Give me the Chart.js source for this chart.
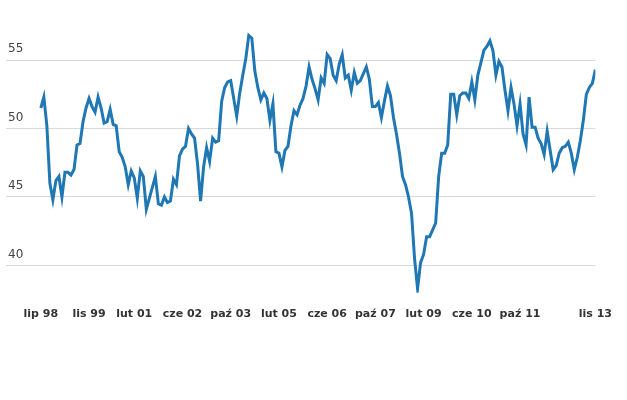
<!DOCTYPE html>
<html><head><meta charset="utf-8">
<script src="https://cdn.jsdelivr.net/npm/chart.js@4"></script>
<style>html,body{margin:0;padding:0;background:#fff}#wrap{width:627px;height:400px;position:relative}</style>
</head><body><div id="wrap"><canvas id="c"></canvas></div>
<script>
// Monthly values, lip 98 (index 0) .. lis 13 (index 184)
const values = [
  51.5, 52.3, 50.2, 46.0, 44.8, 46.2, 46.5, 45.0, 46.8, 46.8,
  46.6, 47.0, 48.8, 48.9, 50.5, 51.5, 52.2, 51.6, 51.2, 52.3,
  51.5, 50.4, 50.5, 51.4, 50.3, 50.2, 48.3, 47.9, 47.2, 45.9,
  46.9, 46.4, 44.9, 46.9, 46.5, 44.1, 44.9, 45.7, 46.5, 44.5,
  44.4, 45.0, 44.6, 44.7, 46.3, 45.9, 48.0, 48.5, 48.7, 50.0,
  49.6, 49.3, 47.4, 44.7, 47.2, 48.6, 47.6, 49.3, 49.0, 49.1,
  52.0, 53.0, 53.4, 53.5, 52.2, 50.9, 52.6, 53.9, 55.1, 56.8,
  56.6, 54.2, 53.0, 52.1, 52.6, 52.2, 50.6, 51.8, 48.3, 48.2,
  47.2, 48.4, 48.7, 50.2, 51.3, 51.0, 51.7, 52.2, 53.1, 54.5,
  53.6, 52.9, 52.1, 53.7, 53.3, 55.4, 55.1, 53.9, 53.5, 54.7,
  55.4, 53.7, 53.9, 52.8, 54.1, 53.3, 53.5, 54.0, 54.5, 53.6,
  51.6, 51.6, 51.9, 50.8, 52.0, 53.1, 52.4, 50.8, 49.6, 48.2,
  46.5, 45.9, 45.0, 43.8, 40.5, 38.3, 40.2, 40.8, 42.1, 42.1,
  42.6, 43.1, 46.5, 48.2, 48.2, 48.8, 52.5, 52.5, 51.0, 52.4,
  52.6, 52.6, 52.2, 53.4, 52.1, 53.9, 54.8, 55.7, 56.0, 56.4,
  55.7, 53.9, 54.9, 54.5, 52.8, 51.3, 53.0, 51.8, 50.2, 51.8,
  49.6, 48.8, 52.3, 50.1, 50.1, 49.3, 48.9, 48.1, 49.8, 48.4,
  47.0, 47.3, 48.2, 48.6, 48.7, 49.0, 48.2, 47.0, 47.9, 49.1,
  50.6, 52.5, 53.0, 53.3, 54.3
];
const tickMonths = [0, 16, 31, 47, 63, 79, 95, 111, 127, 143, 159, 184];
const tickLabels = ['lip 98','lis 99','lut 01','cze 02','paź 03','lut 05','cze 06','paź 07','lut 09','cze 10','paź 11','lis 13'];
const yTicks = [40, 45, 50, 55];

const points = values.map((v, i) => ({ x: i, y: v }));

new Chart(document.getElementById('c'), {
  type: 'line',
  data: { datasets: [{
    data: points,
    borderColor: '#1f77b4',
    borderWidth: 3,
    pointRadius: 0,
    tension: 0,
    fill: false
  }]},
  options: {
    responsive: true,
    maintainAspectRatio: false,
    animation: false,
    layout: { padding: { left: 2, right: 30, top: 19, bottom: 64 } },
    plugins: { legend: { display: false }, tooltip: { enabled: false } },
    scales: {
      x: {
        type: 'linear',
        min: -11.56,
        max: 184,
        grid: { display: false, drawTicks: false },
        border: { display: false },
        afterBuildTicks: s => { s.ticks = tickMonths.map(v => ({ value: v })); },
        ticks: {
          autoSkip: false, maxRotation: 0, padding: 15,
          color: '#333',
          font: { family: 'DejaVu Sans', size: 11, weight: 'bold' },
          callback: v => { const k = tickMonths.indexOf(v); return k >= 0 ? tickLabels[k] : ''; }
        }
      },
      y: {
        min: 38, max: 58,
        grid: { color: '#d9d9d9', lineWidth: 1, drawTicks: false },
        border: { display: false },
        afterBuildTicks: s => { s.ticks = yTicks.map(v => ({ value: v })); },
        ticks: {
          mirror: true, padding: 2, labelOffset: -11,
          color: '#444',
          font: { family: 'DejaVu Sans', size: 12 }
        }
      }
    }
  }
});
</script>
</body></html>
